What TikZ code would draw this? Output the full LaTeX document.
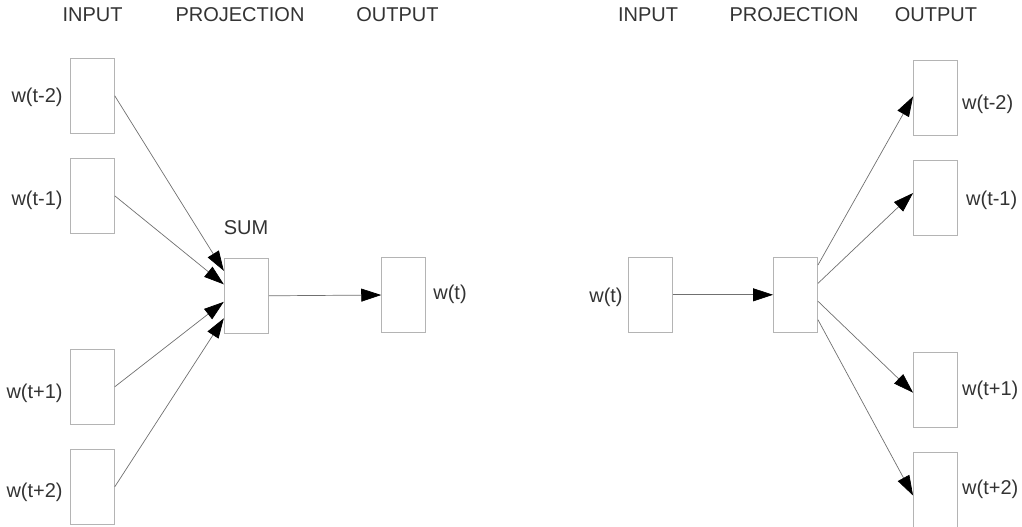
\documentclass[tikz,border=0pt]{standalone}
\usepackage{fontspec}
\setsansfont{Liberation Sans}
\usetikzlibrary{arrows.meta,positioning}
\definecolor{boxgray}{HTML}{B4B4B4}
\definecolor{linegray}{HTML}{707070}
\definecolor{textgray}{HTML}{333333}
\begin{document}
\begin{tikzpicture}[y=-1pt, x=1pt, font=\sffamily\fontsize{20}{24}\selectfont,
    wbox/.style={draw=boxgray, line width=0.9pt, minimum width=44pt, minimum height=75pt, inner sep=0pt},
    lbl/.style={text=textgray, inner sep=0pt},
    arr/.style={draw=linegray, line width=0.7pt, -{Triangle[length=20pt,width=13pt,color=black]}}]
    \useasboundingbox (0,0) rectangle (1022,527);

    \node[lbl] (hin) at (92.5,15) {INPUT};
    \node[lbl] (hproj) at (240,15) {PROJECTION};
    \node[lbl] (hout) at (397.5,15) {OUTPUT};
    \node[lbl] (hin2) at (648,15) {INPUT};
    \node[lbl] (hproj2) at (794,15) {PROJECTION};
    \node[lbl] (hout2) at (936,15) {OUTPUT};

    \node[wbox] (in1) at (92.3,95.8) {};
    \node[wbox] (in2) at (92.3,195.8) {};
    \node[wbox] (in3) at (92.3,386.8) {};
    \node[wbox] (in4) at (92.3,486.8) {};
    \node[lbl, left=7pt of in1, yshift=-2pt] {w(t-2)};
    \node[lbl, left=7pt of in2, yshift=-5pt] {w(t-1)};
    \node[lbl, left=7pt of in3, yshift=-7pt] {w(t+1)};
    \node[lbl, left=7pt of in4, yshift=-6pt] {w(t+2)};

    \node[wbox] (sum) at (246.3,295.8) {};
    \node[lbl] (sumlbl) at (246,228) {SUM};
    \node[wbox] (out) at (403.7,295) {};
    \node[lbl, right=7pt of out, yshift=1pt] {w(t)};

    \draw[arr] (in1.east) -- (sum.132.5);
    \draw[arr] (in2.east) -- (sum.153.4);
    \draw[arr] (in3.east) -- (sum.195.3);
    \draw[arr] (in4.east) -- (sum.225.6);
    \draw[arr] (sum.east) -- (out.west);

    \node[wbox] (win) at (650.3,294.8) {};
    \node[lbl, left=5pt of win, yshift=-3pt] {w(t)};
    \node[wbox] (proj) at (795.5,294.8) {};

    \node[wbox] (out1) at (935.5,98) {};
    \node[wbox] (out2) at (935.5,197.8) {};
    \node[wbox] (out3) at (935.5,389.5) {};
    \node[wbox] (out4) at (935.5,489.5) {};
    \node[lbl, right=4pt of out1, yshift=-6pt] {w(t-2)};
    \node[lbl, right=8pt of out2, yshift=-3pt] {w(t-1)};
    \node[lbl, right=4pt of out3, yshift=-1pt] {w(t+1)};
    \node[lbl, right=4pt of out4] {w(t+2)};

    \draw[arr] (win.east) -- (proj.west);
    \draw[arr] (proj.53.6) -- (out1.176);
    \draw[arr] (proj.27.6) -- (out2.168.4);
    \draw[arr] (proj.344.7) -- (out3.188.3);
    \draw[arr] (proj.312) -- (out4.195.8);
  \end{tikzpicture}
\end{document}
